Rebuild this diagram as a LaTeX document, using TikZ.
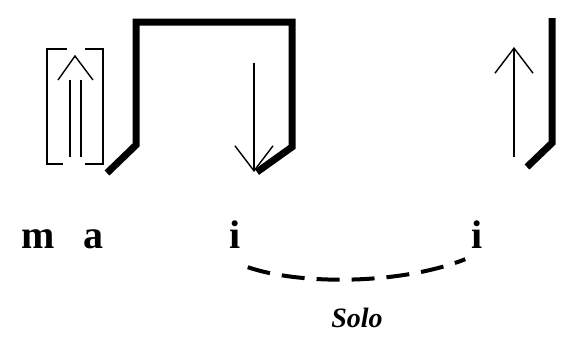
\documentclass[tikz,border=0pt]{standalone}
\usepackage{fontspec}
\setmainfont{Liberation Serif}
\usetikzlibrary{arrows.meta,calc}
\tikzset{
  >={Straight Barb[length=25pt,width=38pt,line width=1.4pt]},
  stroke/.style={line width=7pt,line join=miter,line cap=butt},
  fine/.style={line width=1.4pt},
  brk/.style={line width=1.6pt},
  lab/.style={font=\fontsize{40}{40}\selectfont\bfseries,inner sep=0pt,anchor=base},
  tag/.style={font=\fontsize{28}{28}\selectfont\bfseries\itshape,inner sep=0pt,anchor=base},
  slur/.style={line width=4pt,dash pattern=on 23pt off 12pt},
}
\begin{document}
\begin{tikzpicture}[x=1pt,y=-1pt]
\useasboundingbox (0,0) rectangle (565,338);
% Bracketed double arrow
\draw[brk] (67,49) -| (47,164) -- (63,164);
\draw[brk] (85,49) -| (103,164) -- (85,164);
\draw[fine] (70,157) -- (70,80);
\draw[fine] (81,157) -- (81,80);
\draw[fine] (58,80) -- (75,56) -- (93,80);
% Thick stroke over the first group
\draw[stroke] (107,173) -- (136,145) -- (136,22) -- (292,22) -- (292,147) -- (257,172);
% Down arrow
\draw[fine,->] (254,63) -- (254,172);
% Up arrow and last stroke
\draw[fine,->] (514,157) -- (514,47);
\draw[stroke] (552,18) -- (552,143) -- (527,167);
% Finger letters
\node[lab] (m) at (38,248) {m};
\node[lab] (a) at (93,248) {a};
\node[lab] (i1) at (235,248) {i};
\node[lab] (i2) at (477,248) {i};
% Slur
\draw[slur] ($(i1.south east)+(7,19)$) .. controls (300,285) and (400,285) .. ($(i2.south west)+(-6,11)$);
\node[tag] (solo) at (357,327) {Solo};
\end{tikzpicture}
\end{document}
